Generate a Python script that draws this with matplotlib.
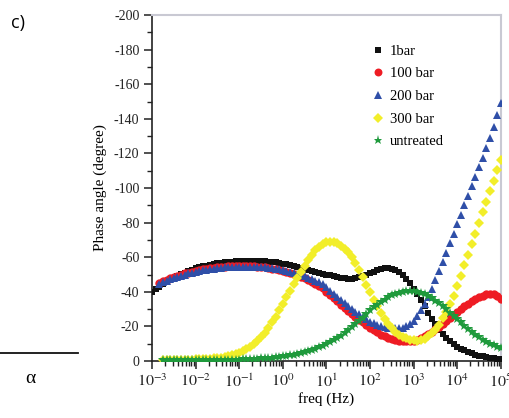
import numpy as np
import matplotlib
matplotlib.use("Agg")
import matplotlib.pyplot as plt
from matplotlib.ticker import LogLocator, FixedLocator, NullFormatter
from matplotlib.lines import Line2D

plt.rcParams['font.family'] = ['Liberation Serif', 'DejaVu Serif']
plt.rcParams['mathtext.fontset'] = 'stix'
plt.rcParams['axes.unicode_minus'] = False

# frequency sweep: 12 points per decade, 1e-3 .. 1e5 Hz
freq = np.logspace(-3, 5, 97)

labels = ["1bar", "100 bar", "200 bar", "300 bar", "untreated"]

phase_1bar = [
    -40.0, -41.6, -43.0, -44.3, -45.5, -46.7, -47.8, -49.0, -50.1, -51.1, -52.0, -52.8,
    -53.5, -54.1, -54.7, -55.2, -55.6, -56.0, -56.4, -56.7, -57.0, -57.2, -57.4, -57.6,
    -57.7, -57.8, -57.9, -57.9, -57.9, -57.9, -57.8, -57.7, -57.5, -57.3, -57.0, -56.7,
    -56.3, -55.9, -55.4, -54.9, -54.4, -53.9, -53.3, -52.7, -52.1, -51.5, -51.0, -50.5,
    -50.0, -49.5, -49.0, -48.5, -48.1, -47.8, -47.6, -47.6, -47.8, -48.3, -49.0, -49.9,
    -50.8, -51.7, -52.5, -53.1, -53.5, -53.6, -53.3, -52.6, -51.5, -49.9, -47.5, -44.8,
    -41.8, -38.5, -35.0, -31.5, -27.9, -24.4, -21.1, -18.1, -15.4, -13.2, -11.3, -9.7,
    -8.3, -7.1, -6.1, -5.2, -4.4, -3.7, -3.1, -2.6, -2.2, -1.9, -1.6, -1.4,
    -1.2,
]

phase_100bar = [
    -45.3, -46.3, -47.1, -47.9, -48.7, -49.4, -50.0, -50.6, -51.1, -51.6,
    -52.1, -52.5, -52.9, -53.2, -53.5, -53.8, -54.1, -54.3, -54.5, -54.7, -54.8, -54.9,
    -55.0, -55.0, -55.0, -54.9, -54.8, -54.6, -54.4, -54.1, -53.8, -53.4, -52.9, -52.4,
    -52.0, -51.5, -50.9, -50.2, -49.5, -48.7, -47.8, -46.8, -45.7, -44.6, -43.4, -42.1,
    -39.8, -38.0, -36.2, -34.4, -32.6, -30.8, -29.0, -27.3, -25.6, -23.9, -22.3, -20.7,
    -19.2, -17.8, -16.5, -15.3, -14.3, -13.4, -12.7, -12.1, -11.7, -11.4, -11.3, -11.4,
    -11.8, -12.4, -13.2, -14.2, -15.4, -16.8, -18.3, -19.9, -21.6, -23.3, -25.0, -26.7,
    -28.4, -30.0, -31.6, -33.1, -34.5, -35.8, -36.9, -37.8, -38.5, -38.8, -38.6, -37.6,
    -35.8,
]

phase_200bar = [
    -44.3, -45.4, -46.4, -47.2, -48.0, -48.7, -49.4, -50.0, -50.6, -51.1,
    -51.6, -52.0, -52.4, -52.8, -53.1, -53.4, -53.7, -53.9, -54.1, -54.3, -54.4, -54.5,
    -54.6, -54.6, -54.6, -54.6, -54.5, -54.4, -54.3, -54.1, -53.9, -53.6, -53.3, -52.9,
    -52.5, -52.0, -51.5, -51.0, -50.4, -49.7, -49.0, -48.2, -47.4, -46.5, -45.5, -44.5,
    -42.5, -40.7, -38.9, -37.1, -35.3, -33.5, -31.8, -30.1, -28.5, -26.9, -25.4, -24.0,
    -22.8, -21.7, -20.8, -20.1, -19.6, -19.2, -19.0, -18.9, -18.9, -19.3, -20.0, -21.3,
    -23.3, -26.0, -29.3, -33.0, -37.2, -41.8, -46.8, -52.0, -57.3, -62.7, -68.1, -73.5,
    -79.0, -84.5, -90.0, -95.5, -101.0, -106.5, -112.0, -117.6, -123.2, -129.0, -135.3, -142.0,
    -149.0,
]

phase_300bar = [
    -0.3, -0.3, -0.4, -0.4, -0.5, -0.5, -0.6, -0.7, -0.8,
    -0.9, -1.0, -1.1, -1.3, -1.4, -1.5, -1.7, -2.0, -2.4, -2.9, -3.5, -4.1,
    -4.9, -5.8, -6.9, -8.2, -9.8, -11.7, -13.9, -16.4, -19.2, -22.3, -25.7, -29.3,
    -33.0, -36.8, -40.6, -44.4, -48.1, -51.7, -55.1, -58.3, -61.3, -63.9, -66.0, -67.6,
    -68.6, -69.0, -68.8, -68.0, -66.6, -64.6, -62.8, -60.0, -56.6, -52.7, -48.5, -44.1,
    -39.7, -35.5, -31.5, -27.8, -24.5, -21.6, -19.1, -17.0, -15.3, -14.0, -13.0, -12.3,
    -11.9, -11.8, -12.1, -12.9, -14.2, -16.0, -18.0, -21.0, -24.6, -28.6, -33.0, -37.8,
    -43.2, -49.3, -55.4, -61.5, -67.6, -73.7, -79.8, -85.9, -92.0, -98.1, -104.2, -110.3,
    -116.3,
]

phase_untreated = [
    -0.3, -0.3, -0.3, -0.3, -0.3, -0.3, -0.3, -0.3, -0.3,
    -0.3, -0.4, -0.4, -0.4, -0.4, -0.5, -0.5, -0.5, -0.6, -0.6, -0.7, -0.7,
    -0.8, -0.9, -1.0, -1.1, -1.2, -1.3, -1.5, -1.6, -1.8, -2.0, -2.2, -2.4,
    -2.6, -2.9, -3.2, -3.6, -4.0, -4.5, -5.0, -5.6, -6.3, -7.0, -7.8, -8.7,
    -9.7, -10.8, -12.0, -13.3, -14.7, -16.2, -17.8, -19.5, -21.3, -23.1, -24.9, -27.2,
    -29.2, -31.0, -32.6, -34.1, -35.5, -36.9, -37.9, -38.8, -39.5, -40.0, -40.3, -40.4,
    -40.3, -39.9, -39.3, -38.5, -37.5, -36.3, -34.9, -33.4, -31.7, -29.9, -28.0, -26.1,
    -24.2, -22.3, -20.4, -18.6, -16.9, -15.3, -13.8, -12.4, -11.1, -10.0, -9.0, -8.2,
    -7.5,
]

series = [
    (phase_1bar,      's', 4.2, '#111111'),
    (phase_100bar,    'o', 6.0, '#ee1c24'),
    (phase_200bar,    '^', 6.0, '#2f4fa8'),
    (phase_300bar,    'D', 5.0, '#f2ee2a'),
    (phase_untreated, '*', 7.0, '#1f9a3c'),
]

y_ticks = [0, -20, -40, -60, -80, -100, -120, -140, -160, -180, -200]
x_ticks = [1e-3, 1e-2, 1e-1, 1e0, 1e1, 1e2, 1e3, 1e4, 1e5]
x_ticklabels = [r'$10^{-3}$', r'$10^{-2}$', r'$10^{-1}$', r'$10^{0}$', r'$10^{1}$',
                r'$10^{2}$', r'$10^{3}$', r'$10^{4}$', r'$10^{5}$']

fig = plt.figure(figsize=(5.10, 4.18), dpi=100)
ax = fig.add_axes([0.298, 0.1364, 0.684, 0.8276])

handles = []
for (vals, mk, ms, col), lab in zip(series, labels):
    f = freq[len(freq) - len(vals):]
    ax.plot(f, vals, linestyle='none', marker=mk, markersize=ms, color=col,
            markeredgewidth=0, zorder=3)
    handles.append(Line2D([], [], linestyle='none', marker=mk, color=col,
                          markersize=ms * 0.95, markeredgewidth=0, label=lab))

ax.set_xscale('log')
ax.set_xlim(1e-3, 1e5)
ax.set_ylim(0, -200)

ax.set_xticks(x_ticks)
ax.set_xticklabels(x_ticklabels, fontsize=11.5)
ax.xaxis.set_minor_locator(LogLocator(base=10, subs=np.arange(2, 10)))
ax.xaxis.set_minor_formatter(NullFormatter())

ax.set_yticks(y_ticks)
ax.set_yticklabels([str(t) for t in y_ticks], fontsize=10)
ax.yaxis.set_minor_locator(FixedLocator(list(range(-190, 0, 20))))

ax.tick_params(axis='both', which='major', direction='out', length=6, width=1.1,
               colors='#222222', pad=3)
ax.tick_params(axis='both', which='minor', direction='out', length=3.5, width=1.0,
               colors='#222222')
ax.tick_params(top=False, right=False, which='both')

for s in ['left', 'bottom']:
    ax.spines[s].set_color('#222222')
    ax.spines[s].set_linewidth(1.2)
for s in ['top', 'right']:
    ax.spines[s].set_color('#c9c9d3')
    ax.spines[s].set_linewidth(1.5)

ax.set_xlabel('freq (Hz)', fontsize=11, labelpad=1)
ax.set_ylabel('Phase angle (degree)', fontsize=11, labelpad=5)

leg = ax.legend(handles=handles, loc='upper left', bbox_to_anchor=(0.605, 0.932),
                frameon=False, fontsize=10.5, handletextpad=0.25, labelspacing=0.65,
                handlelength=1.2, borderaxespad=0)

# panel decorations from the source page
fig.text(0.022, 0.945, 'c)', fontsize=13, family='Open Sans', va='center', ha='left')
fig.text(0.05, 0.095, 'α', fontsize=14, va='center', ha='left')
fig.add_artist(Line2D([0.0, 0.153], [1 - 353 / 418, 1 - 353 / 418],
                      transform=fig.transFigure, color='#111111', linewidth=1.3))

fig.savefig('out.png', dpi=100)
